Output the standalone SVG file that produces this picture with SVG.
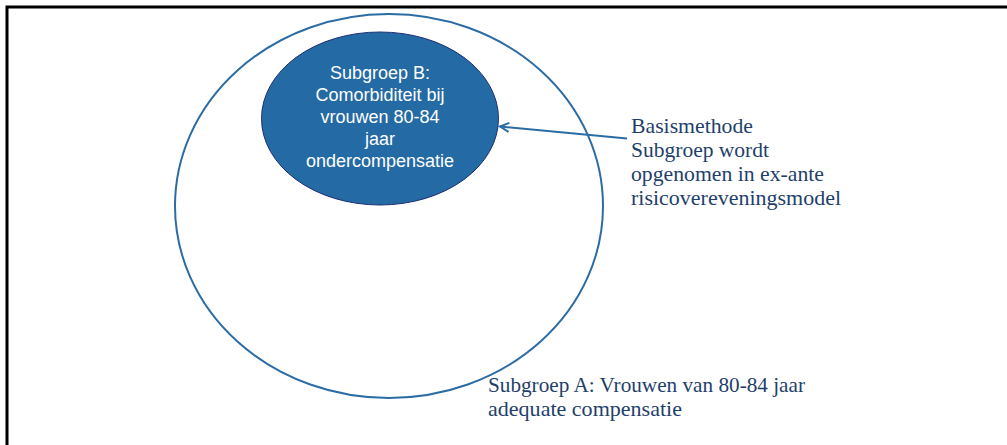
<svg xmlns="http://www.w3.org/2000/svg" width="1007" height="445" viewBox="0 0 1007 445">
  <style>
    .frame { stroke: #000; stroke-width: 3; fill: none; }
    .outer { fill: none; stroke: #2b6ca5; stroke-width: 2; }
    .inner { fill: #246aa4; stroke: #1f2f73; stroke-width: 1; }
    .intext { font-family: "Liberation Sans", Arial, sans-serif; font-size: 18px; fill: #ffffff; text-anchor: middle; }
    .label { font-family: "Liberation Serif", "Times New Roman", serif; font-size: 21px; fill: #1f3f6b; }
    .conn { stroke: #2b6ca5; stroke-width: 2; fill: none; }
  </style>
  <defs>
    <marker id="arrow" markerWidth="14" markerHeight="14" refX="11" refY="6" orient="auto" markerUnits="userSpaceOnUse">
      <path d="M2,1.5 L11,6 L2,10.5" fill="none" stroke="#2b6ca5" stroke-width="2"/>
    </marker>
  </defs>
  <rect width="1007" height="445" fill="#ffffff"/>
  <path class="frame" d="M7,445 L7,7 L1007,7"/>

  <g id="subgroepA">
    <ellipse class="outer" cx="389" cy="206" rx="214" ry="192"/>
    <text class="label" x="488" y="392" textLength="317" lengthAdjust="spacingAndGlyphs">Subgroep A: Vrouwen van 80-84 jaar</text>
    <text class="label" x="488" y="416" textLength="194" lengthAdjust="spacingAndGlyphs">adequate compensatie</text>
  </g>

  <g id="subgroepB">
    <ellipse class="inner" cx="380" cy="118.5" rx="118.5" ry="86.5"/>
    <text class="intext" x="380" y="79">Subgroep B:</text>
    <text class="intext" x="380" y="101">Comorbiditeit bij</text>
    <text class="intext" x="380" y="123">vrouwen 80-84</text>
    <text class="intext" x="380" y="145">jaar</text>
    <text class="intext" x="380" y="167">ondercompensatie</text>
  </g>

  <g id="basismethode">
    <text class="label" x="631" y="133" textLength="122" lengthAdjust="spacingAndGlyphs">Basismethode</text>
    <text class="label" x="631" y="157" textLength="138" lengthAdjust="spacingAndGlyphs">Subgroep wordt</text>
    <text class="label" x="631" y="181" textLength="193" lengthAdjust="spacingAndGlyphs">opgenomen in ex-ante</text>
    <text class="label" x="631" y="205" textLength="210" lengthAdjust="spacingAndGlyphs">risicovereveningsmodel</text>
  </g>

  <g id="connectors">
    <line class="conn" x1="627" y1="138.5" x2="500" y2="126.5" marker-end="url(#arrow)"/>
  </g>
</svg>
